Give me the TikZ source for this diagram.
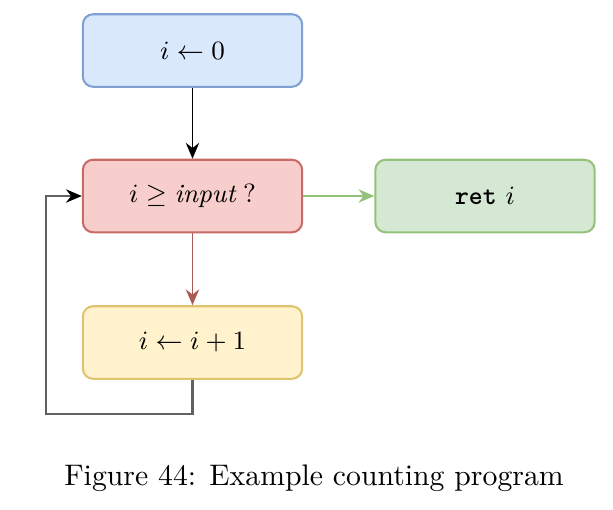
\documentclass[tikz,border=0pt]{standalone}
\usepackage{amsmath,amssymb}
\usepackage{fontspec}
\usetikzlibrary{arrows.meta}
\definecolor{blueFill}{HTML}{DAE8FC}\definecolor{blueLine}{HTML}{7FA0D0}
\definecolor{redFill}{HTML}{F8CECC}\definecolor{redLine}{HTML}{C86A66}
\definecolor{greenFill}{HTML}{D5E8D4}\definecolor{greenLine}{HTML}{95C27A}
\definecolor{yellowFill}{HTML}{FFF2CC}\definecolor{yellowLine}{HTML}{DEC46E}
\tikzset{
  stepbox/.style={draw,rounded corners=3.5pt,line width=.7pt,align=center,minimum width=2.63cm,minimum height=.87cm,inner sep=2pt,font=\small},
  initbox/.style={stepbox,fill=blueFill,draw=blueLine},
  testbox/.style={stepbox,fill=redFill,draw=redLine},
  retbox/.style={stepbox,fill=greenFill,draw=greenLine},
  incbox/.style={stepbox,fill=yellowFill,draw=yellowLine},
  flowarr/.style={-{Stealth[length=1.9mm,width=1.6mm]},line width=.65pt},
  yesarr/.style={flowarr,draw=greenLine,fill=greenLine},
  noarr/.style={flowarr,draw=redLine!85!black,fill=redLine!85!black},
  looparr/.style={-{Stealth[length=1.9mm,width=1.6mm,color=black]},line width=.75pt,black!62}
}
\begin{document}
\begin{tikzpicture}[x=0.012cm,y=-0.012cm]
  \useasboundingbox (0,0) rectangle (613,509);
  % flow boxes
  \node[initbox] (init) at (192.5,50.5) {$i \leftarrow 0$};
  \node[testbox] (cond) at (192.5,196) {$i \geq \mathit{input}\;?$};
  \node[retbox] (ret) at (485,196) {\texttt{\textbf{ret}} $i$};
  \node[incbox] (inc) at (192.5,342.5) {$i \leftarrow i+1$};
  \coordinate (back) at (46,414);
  % connectors
  \draw[flowarr] (init) -- (cond);
  \draw[yesarr] (cond) -- (ret);
  \draw[noarr] (cond) -- (inc);
  \draw[looparr] (inc.south) |- (back) |- (cond.west);
  % caption
  \node[scale=1.015] (caption) at (314,478) {Figure 44: Example counting program};
\end{tikzpicture}
\end{document}
